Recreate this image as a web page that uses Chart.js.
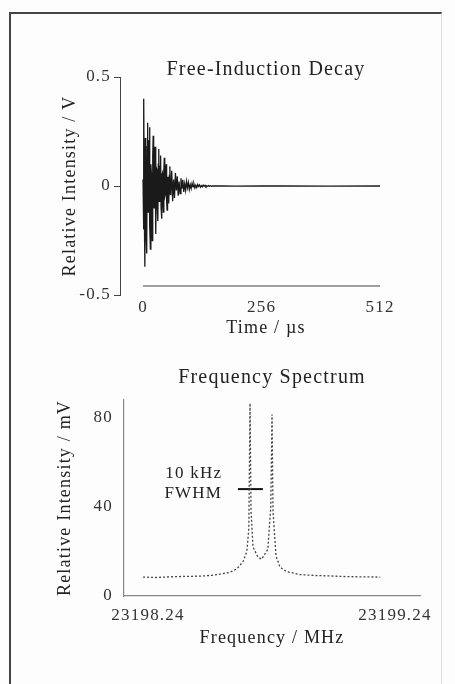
<!DOCTYPE html>
<html>
<head>
<title>Free-Induction Decay / Frequency Spectrum</title>
<script src="https://cdn.jsdelivr.net/npm/chart.js"></script>
<style>
  body { margin: 0; background: #fdfdfd; }
  .frame {
    position: absolute; left: 9px; top: 12px; width: 430px; height: 680px;
    border-top: 2px solid #444; border-left: 2px solid #444; border-right: 1px solid #ddd;
  }
  #fidChart { position: absolute; left: 0; top: 0; }
  #specChart { position: absolute; left: 0; top: 345px; }
</style>
</head>
<body>
<div class="frame"></div>
<canvas id="fidChart" width="455" height="345"></canvas>
<canvas id="specChart" width="455" height="339"></canvas>

<script>
// free-induction decay, time in us, signal in V
var fidTime = [0, 1, 2, 3, 4, 5, 6, 7, 8, 9, 10, 11, 12, 13, 14, 15, 16, 17, 18, 19,
  20, 21, 22, 23, 24, 25, 26, 27, 28, 29, 30, 31, 32, 33, 34, 35, 36, 37, 38, 39,
  40, 41, 42, 43, 44, 45, 46, 47, 48, 49, 50, 51, 52, 53, 54, 55, 56, 57, 58, 59, 60,
  62, 64, 66, 68, 70, 72, 74, 76, 78,
  80, 82, 84, 86, 88, 90, 92, 94, 96, 98, 100, 102, 104, 106, 108, 110, 112, 114, 116, 118,
  120, 122, 124, 126, 128, 130, 132, 134, 136, 138, 140, 142, 144, 146, 148, 150,
  170, 200, 256, 300, 400, 512];
var fidVolts = [0.03, -0.20, 0.40, -0.15, -0.37, 0.22, 0.12, -0.24, -0.31, 0.18,
  0.29, -0.12, -0.08, 0.21, 0.27, -0.19, -0.29, 0.10, 0.06, -0.17,
  -0.25, 0.14, 0.23, -0.09, -0.10, 0.12, 0.18, -0.13, -0.22, 0.08,
  0.07, -0.11, -0.16, 0.10, 0.17, -0.07, -0.05, 0.09, 0.14, -0.10,
  -0.15, 0.05, 0.06, -0.08, -0.12, 0.07, 0.13, -0.05, -0.04, 0.06,
  0.10, -0.07, -0.11, 0.04, 0.04, -0.05, -0.08, 0.05, 0.09, -0.04, -0.03,
  0.07, -0.07, 0.03, -0.055, 0.06, -0.02, 0.045, -0.045, 0.02,
  -0.035, 0.035, -0.012, 0.028, -0.027, 0.01, -0.02, 0.021, -0.008, 0.016,
  -0.016, 0.006, -0.012, 0.012, -0.004, 0.009, -0.009, 0.003, -0.007, 0.007,
  -0.002, 0.005, -0.005, 0.002, -0.004, 0.004, -0.001, 0.003, -0.003, 0.001,
  -0.002, 0.002, -0.001, 0.001, -0.001, 0,
  0.001, -0.001, 0.001, 0, -0.001, 0];
var voltTickValues = [-0.5, 0, 0.5];
var voltTickLabels = ["-0.5", "0", "0.5"];
var timeTickValues = [0, 256, 512];
var timeTickLabels = ["0", "256", "512"];

// frequency spectrum, MHz and mV
var specFreq = [23198.22, 23198.27, 23198.33, 23198.39, 23198.45, 23198.50, 23198.53, 23198.57,
  23198.60, 23198.625, 23198.64, 23198.648, 23198.653, 23198.657, 23198.665, 23198.685,
  23198.70, 23198.725, 23198.737, 23198.742, 23198.746, 23198.758, 23198.774, 23198.80,
  23198.855, 23198.92, 23198.98, 23199.04, 23199.10, 23199.18];
var specIntensity = [8.5, 8.3, 8.6, 8.8, 8.9, 9.3, 9.8, 10.6,
  12.2, 15.5, 20, 30, 86.5, 38, 22, 17.5,
  16.5, 21, 40, 81.5, 38, 18, 13, 11,
  9.6, 9.2, 9.0, 8.7, 8.6, 8.5];
var fwhmFreq = [23198.604, 23198.705];
var fwhmLevel = [48, 48];
var fwhmText = ["10 kHz", "FWHM"];
var fwhmTextFreq = 23198.54;
var fwhmTextLevel = [55, 46];
var intensityTickValues = [0, 40, 80];
var intensityTickLabels = ["0", "40", "80"];
var freqTickValues = [23198.24, 23199.24];
var freqTickLabels = ["23198.24", "23199.24"];

Chart.defaults.font.family = '"Liberation Serif", "Times New Roman", serif';
Chart.defaults.color = "#333";

// the scanned lettering is a bit wide
var spacingPlugin = {
  id: "spacing",
  beforeDraw: function (chart) { chart.ctx.letterSpacing = "1.2px"; }
};

// x axis of the decay sits a bit above the bottom and only spans the data
var fidAxisPlugin = {
  id: "fidAxis",
  afterDraw: function (chart) {
    var ctx = chart.ctx, xs = chart.scales.x, area = chart.chartArea;
    var yLine = area.bottom - 9;
    ctx.save();
    ctx.strokeStyle = "#444";
    ctx.lineWidth = 1.2;
    ctx.beginPath();
    ctx.moveTo(xs.getPixelForValue(timeTickValues[0]), yLine);
    ctx.lineTo(xs.getPixelForValue(timeTickValues[timeTickValues.length - 1]), yLine);
    ctx.stroke();
    ctx.restore();
  }
};

var fwhmLabelPlugin = {
  id: "fwhmLabel",
  afterDatasetsDraw: function (chart) {
    var ctx = chart.ctx, xs = chart.scales.x, ys = chart.scales.y;
    ctx.save();
    ctx.fillStyle = "#222";
    ctx.font = '17px "Liberation Serif", serif';
    ctx.textAlign = "right";
    ctx.textBaseline = "middle";
    for (var i = 0; i < fwhmText.length; i++) {
      ctx.fillText(fwhmText[i], xs.getPixelForValue(fwhmTextFreq), ys.getPixelForValue(fwhmTextLevel[i]));
    }
    ctx.restore();
  }
};

function fixedTicks(values) {
  return function (scale) {
    scale.ticks = values.map(function (v) { return { value: v }; });
  };
}

new Chart(document.getElementById("fidChart").getContext("2d"), {
  type: "line",
  data: {
    datasets: [{
      data: fidTime.map(function (t, i) { return { x: t, y: fidVolts[i] }; }),
      borderColor: "#1a1a1a",
      borderWidth: 1.3,
      pointRadius: 0,
      tension: 0
    }]
  },
  plugins: [spacingPlugin, fidAxisPlugin],
  options: {
    responsive: false,
    animation: false,
    devicePixelRatio: 1,
    layout: { padding: { top: 58, left: 59, right: 43, bottom: 0 } },
    plugins: {
      legend: { display: false },
      tooltip: { enabled: false },
      title: {
        display: true, text: "Free-Induction Decay", fullSize: false, color: "#222",
        font: { size: 20, weight: "normal" }, padding: { top: 0, bottom: -5 }
      }
    },
    scales: {
      x: {
        type: "linear", min: -49.7, max: 581,
        afterBuildTicks: fixedTicks(timeTickValues),
        afterFit: function (s) { s.height = 50; },
        grid: { display: false, drawTicks: false },
        border: { display: false },
        ticks: {
          font: { size: 17 }, padding: 2, maxRotation: 0, autoSkip: false,
          callback: function (v, i) { return timeTickLabels[i]; }
        },
        title: { display: true, text: "Time / \u00b5s", color: "#222", font: { size: 18 }, padding: { top: 0, bottom: 6 } }
      },
      y: {
        min: -0.5, max: 0.5,
        afterBuildTicks: fixedTicks(voltTickValues),
        afterFit: function (s) { s.width = 61; },
        grid: { drawOnChartArea: false, drawTicks: true, tickLength: 6, color: "#444" },
        border: { display: true, color: "#444", width: 1 },
        ticks: {
          font: { size: 17 }, padding: 3,
          callback: function (v, i) { return voltTickLabels[i]; }
        },
        title: { display: true, text: "Relative Intensity / V", color: "#222", font: { size: 18 }, padding: { top: 0, bottom: 0 } }
      }
    }
  }
});

new Chart(document.getElementById("specChart").getContext("2d"), {
  type: "line",
  data: {
    datasets: [{
      data: specFreq.map(function (f, i) { return { x: f, y: specIntensity[i] }; }),
      borderColor: "#444",
      borderWidth: 1.3,
      borderDash: [2, 2],
      pointRadius: 0,
      tension: 0,
      clip: false
    }, {
      data: fwhmFreq.map(function (f, i) { return { x: f, y: fwhmLevel[i] }; }),
      borderColor: "#111",
      borderWidth: 2,
      pointRadius: 0,
      clip: false
    }]
  },
  plugins: [spacingPlugin, fwhmLabelPlugin],
  options: {
    responsive: false,
    animation: false,
    devicePixelRatio: 1,
    layout: { padding: { top: 21, left: 54, right: 35, bottom: 30 } },
    plugins: {
      legend: { display: false },
      tooltip: { enabled: false },
      title: {
        display: true, text: "Frequency Spectrum", fullSize: false, color: "#222",
        font: { size: 20, weight: "normal" }, padding: { top: 0, bottom: 10 }
      }
    },
    scales: {
      x: {
        type: "linear", min: 23198.1428, max: 23199.341,
        afterBuildTicks: fixedTicks(freqTickValues),
        afterFit: function (s) { s.height = 58; },
        grid: { display: false, drawTicks: false },
        border: { display: true, color: "#888", width: 1.2, dash: [1, 6] },
        ticks: {
          font: { size: 17 }, padding: 9, maxRotation: 0, autoSkip: false,
          callback: function (v, i) { return freqTickLabels[i]; }
        },
        title: { display: true, text: "Frequency / MHz", color: "#222", font: { size: 18 }, padding: { top: 0, bottom: 5 } }
      },
      y: {
        min: 0, max: 88,
        afterBuildTicks: fixedTicks(intensityTickValues),
        afterFit: function (s) { s.width = 70; },
        grid: { drawOnChartArea: false, drawTicks: false },
        border: { display: true, color: "#888", width: 1.2, dash: [1, 5] },
        ticks: {
          font: { size: 17 }, padding: 11,
          callback: function (v, i) { return intensityTickLabels[i]; }
        },
        title: { display: true, text: "Relative Intensity / mV", color: "#222", font: { size: 18 }, padding: { top: 0, bottom: 0 } }
      }
    }
  }
});
</script>
</body>
</html>
